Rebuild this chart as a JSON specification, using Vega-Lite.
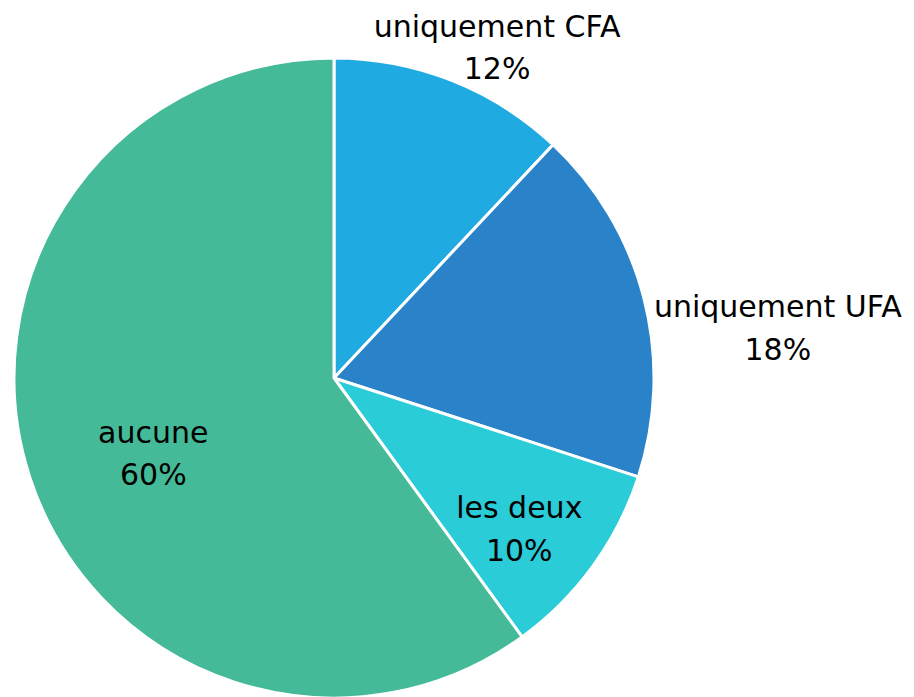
{
  "$schema": "https://vega.github.io/schema/vega-lite/v6.json",
  "width": 640,
  "height": 640,
  "autosize": "none",
  "padding": {"left": 14, "top": 58, "right": 260, "bottom": 0},
  "background": "white",
  "config": {"view": {"stroke": null}},
  "data": {
    "values": [
      {"cat": "uniquement CFA", "value": 0.12, "order": 1},
      {"cat": "uniquement UFA", "value": 0.18, "order": 2},
      {"cat": "les deux", "value": 0.10, "order": 3},
      {"cat": "aucune", "value": 0.60, "order": 4}
    ]
  },
  "transform": [
    {"calculate": "datum.cat + '\\n' + format(datum.value, '.0%')", "as": "label"}
  ],
  "encoding": {
    "theta": {"field": "value", "type": "quantitative", "stack": true},
    "order": {"field": "order", "type": "quantitative"}
  },
  "layer": [
    {
      "mark": {"type": "arc", "outerRadius": 320, "stroke": "white", "strokeWidth": 3},
      "encoding": {
        "color": {
          "field": "cat",
          "type": "nominal",
          "scale": {
            "domain": ["uniquement CFA", "uniquement UFA", "les deux", "aucune"],
            "range": ["#1FAAE2", "#2A83C8", "#2ACCD8", "#44BA98"]
          },
          "legend": null
        }
      }
    },
    {
      "mark": {"type": "text", "radius": 356, "dx": 32, "dy": -19, "font": "DejaVu Sans", "fontSize": 30, "lineBreak": "\n", "lineHeight": 42, "color": "black"},
      "encoding": {"text": {"condition": {"test": "datum.cat == 'uniquement CFA'", "field": "label"}, "value": ""}}
    },
    {
      "mark": {"type": "text", "radius": 420, "dx": 37, "dy": 34, "font": "DejaVu Sans", "fontSize": 30, "lineBreak": "\n", "lineHeight": 43, "color": "black"},
      "encoding": {"text": {"condition": {"test": "datum.cat == 'uniquement UFA'", "field": "label"}, "value": ""}}
    },
    {
      "mark": {"type": "text", "radius": 229, "dy": -4, "font": "DejaVu Sans", "fontSize": 30, "lineBreak": "\n", "lineHeight": 43, "color": "black"},
      "encoding": {"text": {"condition": {"test": "datum.cat == 'les deux'", "field": "label"}, "value": ""}}
    },
    {
      "mark": {"type": "text", "radius": 190, "dy": -3, "font": "DejaVu Sans", "fontSize": 30, "lineBreak": "\n", "lineHeight": 42, "color": "black"},
      "encoding": {"text": {"condition": {"test": "datum.cat == 'aucune'", "field": "label"}, "value": ""}}
    }
  ]
}
